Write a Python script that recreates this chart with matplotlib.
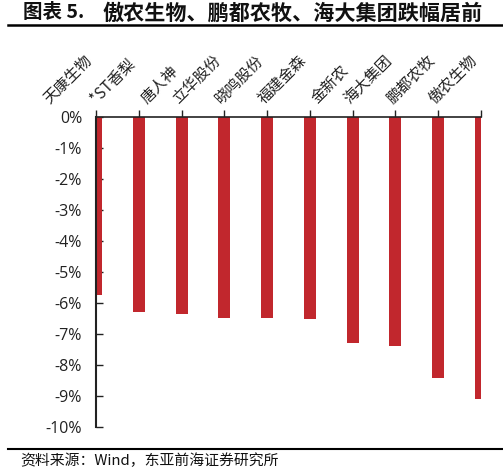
import matplotlib
matplotlib.use("Agg")
import matplotlib.pyplot as plt
from matplotlib.ticker import FuncFormatter

plt.rcParams['font.family'] = ['Noto Sans CJK SC', 'DejaVu Sans']

categories = ["天康生物", "*ST香梨", "唐人神", "立华股份", "晓鸣股份", "福建金森",
              "金新农", "海大集团", "鹏都农牧", "傲农生物"]
values = [-5.74, -6.30, -6.36, -6.47, -6.49, -6.52, -7.30, -7.40, -8.42, -9.10]
yticks = list(range(0, -11, -1))

bar_color = "#C1272D"

fig = plt.figure(figsize=(5.03, 4.70), dpi=100)
ax = fig.add_axes([96/503, 1-427/470, (481-96)/503, (427-117)/470])

x = list(range(len(categories)))
ax.bar(x, values, width=0.28, color=bar_color, zorder=2)

ax.set_xlim(0, 9)
ax.set_ylim(-10, 0)

ax.set_xticks(x)
ax.set_xticklabels(categories)
ax.tick_params(axis='x', which='both', top=True, bottom=False, labeltop=True, labelbottom=False,
               direction='out', length=5, width=1, pad=2,
               colors='#222222', labelcolor='#222222', labelsize=11, labelrotation=45)

ax.set_yticks(yticks)
ax.yaxis.set_major_formatter(FuncFormatter(lambda v, p: f"{int(round(v))}%"))
ax.tick_params(axis='y', direction='in', length=5, width=1, labelsize=11.5, pad=10,
               colors='#222222', labelcolor='#222222')

for s in ['right', 'bottom']:
    ax.spines[s].set_visible(False)
ax.spines['top'].set_position(('data', 0))
ax.spines['top'].set_linewidth(1.2)
ax.spines['left'].set_linewidth(1.5)
ax.spines['top'].set_color('#222222')
ax.spines['left'].set_color('#222222')

# title and rules
fig.text(23/503, 1-13/470, "图表 5.", fontsize=14, fontweight='bold',
         ha='left', va='center', color='#111111')
fig.text(103/503, 1-13/470, "傲农生物、鹏都农牧、海大集团跌幅居前", fontsize=15.2,
         fontweight='bold', ha='left', va='center', color='#111111')
fig.add_artist(plt.Line2D([8/503, 1.0], [1-25/470, 1-25/470], color='black', linewidth=1.8))
fig.add_artist(plt.Line2D([8/503, 1.0], [1-449/470, 1-449/470], color='black', linewidth=1.5))
fig.text(20/503, 1-461/470, "资料来源：Wind，东亚前海证券研究所", fontsize=10.7,
         ha='left', va='center', color='#111111')

for t in ax.xaxis.get_major_ticks():
    t.label2.set_horizontalalignment('right')
    t.label2.set_verticalalignment('bottom')
for lab in ax.yaxis.get_majorticklabels():
    lab.set_family(['Open Sans', 'DejaVu Sans'])

fig.savefig("out.png", dpi=100)
